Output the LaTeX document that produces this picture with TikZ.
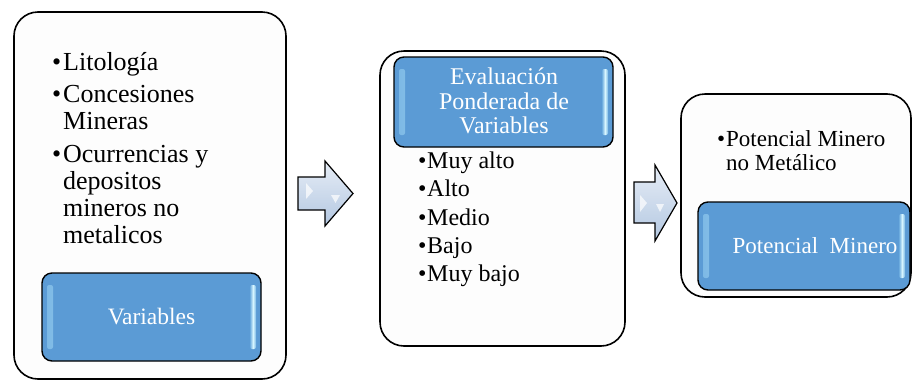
\documentclass[tikz,border=0pt]{standalone}
\usepackage{fontspec}
\setmainfont{Liberation Serif}
\newfontfamily\tnr{Liberation Serif}
\usetikzlibrary{calc}
\definecolor{boxblue}{HTML}{5B9BD5}
\definecolor{hlcyan}{HTML}{D8F6FF}
\definecolor{hlmid}{HTML}{8CC8EE}
\definecolor{outerfill}{HTML}{FDFDFD}
\definecolor{arrowtop}{HTML}{E6EDF6}
\definecolor{arrowbot}{HTML}{B3C7E1}
\newcommand{\bl}[1]{\makebox[#1][l]{\textbullet}}
\tikzset{
  outerbox/.style={draw=black, line width=1.6pt, fill=outerfill, rounded corners=24pt, inner sep=0pt},
  glossbox/.style={draw=black, line width=1.4pt, fill=boxblue, rounded corners=10pt, inner sep=0pt,
    path picture={
      \shade[left color=boxblue!40!hlmid, right color=boxblue!60!hlmid, middle color=hlcyan, rounded corners=2pt]
        ($(path picture bounding box.north west)+(5,12)$) rectangle ($(path picture bounding box.south west)+(11,-12)$);
      \shade[left color=boxblue!60!hlmid, right color=boxblue!40!hlmid, middle color=hlcyan, rounded corners=2pt]
        ($(path picture bounding box.north east)+(-11,12)$) rectangle ($(path picture bounding box.south east)+(-5,-12)$);
    }},
  glosstext/.style={text=white, align=center, inner sep=0pt},
  listtext/.style={anchor=north west, align=left, inner sep=0pt, text=black},
  arrowshape/.style={draw=black, line width=1.2pt, top color=arrowtop, bottom color=arrowbot, line join=miter},
  gleam/.style={fill=white, opacity=0.7},
}
\begin{document}
\begin{tikzpicture}[x=1pt, y=-1pt]
\useasboundingbox (0,0) rectangle (912,381);
% outer boxes
\node[outerbox, minimum width=272pt, minimum height=367pt] (box1) at (150,195.5) {};
\node[outerbox, minimum width=245pt, minimum height=295pt] (box2) at (502.5,198.5) {};
\node[outerbox, minimum width=230pt, minimum height=203pt] (box3) at (796,195.5) {};
% glossy inner boxes
\node[glossbox, minimum width=219pt, minimum height=88pt] (var) at (151.5,317) {};
\node[glosstext, font=\tnr\fontsize{23.5}{24}\selectfont] (vartext) at (var.center) {Variables};
\node[glossbox, minimum width=219pt, minimum height=90pt] (eval) at (503.5,102) {};
\node[glosstext, font=\tnr\fontsize{24}{24.5}\selectfont] (evaltext) at (504,101) {Evaluación\\Ponderada de\\Variables};
\node[glossbox, minimum width=212pt, minimum height=88pt] (pot) at (804,246) {};
\node[glosstext, font=\tnr\fontsize{23}{24}\selectfont, anchor=base] (pottext) at (815,253.5) {Potencial\ \ Minero};
% lists
\node[listtext, font=\tnr\fontsize{26}{27}\selectfont] (list1) at (52,50.7) {%
\rule{0pt}{20pt}\bl{11pt}Litología\\[5pt]
\bl{11pt}Concesiones\\
\hspace*{11pt}Mineras\\[6pt]
\bl{11pt}Ocurrencias y\\
\hspace*{11pt}depositos\\
\hspace*{11pt}mineros no\\
\hspace*{11pt}metalicos};
\node[listtext, font=\tnr\fontsize{24}{28.4}\selectfont] (list2) at (418,148) {%
\rule{0pt}{20pt}\bl{9pt}Muy alto\\
\bl{9pt}Alto\\
\bl{9pt}Medio\\
\bl{9pt}Bajo\\
\bl{9pt}Muy bajo};
\node[listtext, font=\tnr\fontsize{23}{24}\selectfont] (list3) at (717,126.7) {%
\rule{0pt}{20pt}\bl{9pt}Potencial Minero\\
\hspace*{9pt}no Metálico};
% arrows
\coordinate (a1) at (298,177);
\coordinate (a2) at (634,182);
\draw[arrowshape] (a1) -- ++(27,0) -- ++(0,-16) -- ++(28,32.5) -- ++(-28,32.5) -- ++(0,-16) -- ++(-27,0) -- cycle;
\fill[gleam] ($(a1)+(8,6)$) -- ++(7,8) -- ++(-7,8) -- cycle;
\fill[gleam] ($(a1)+(33,18)$) -- ++(9,0) -- ++(-4.5,8) -- cycle;
\draw[arrowshape] (a2) -- ++(21,0) -- ++(0,-17) -- ++(22,38) -- ++(-22,38) -- ++(0,-18) -- ++(-21,0) -- cycle;
\fill[gleam] ($(a2)+(6,13)$) -- ++(7,8) -- ++(-7,9) -- cycle;
\fill[gleam] ($(a2)+(22,22)$) -- ++(8,0) -- ++(-4,8) -- cycle;
\end{tikzpicture}
\end{document}
